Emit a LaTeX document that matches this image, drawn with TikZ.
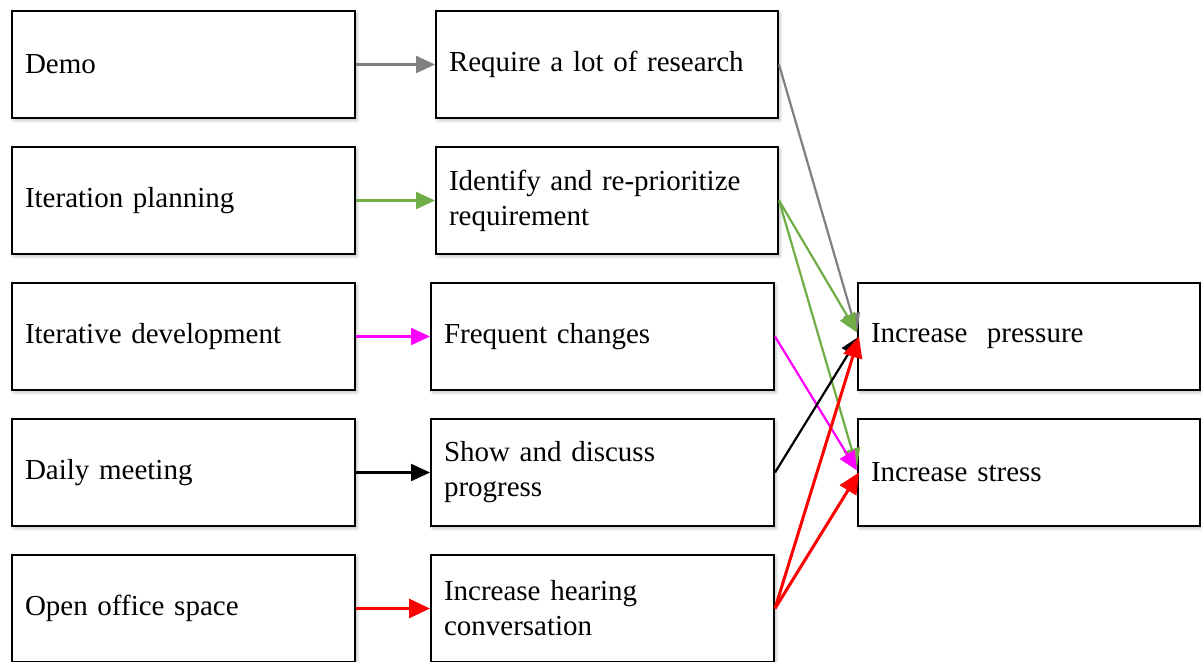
\documentclass[tikz,border=0pt]{standalone}
\usepackage{fontspec}
\setmainfont{Liberation Serif}
\usetikzlibrary{arrows.meta,shadows.blur}
\definecolor{cgray}{HTML}{808080}
\definecolor{cgreen}{HTML}{70AD47}
\definecolor{cmag}{HTML}{FF00FF}
\definecolor{cred}{HTML}{FF0000}
\begin{document}
\begin{tikzpicture}[x=1pt,y=-1pt,
  boxbase/.style={draw=black, line width=2pt, fill=white, anchor=north west,
    minimum height=107pt, inner xsep=13pt, inner ysep=0pt, align=left,
    font=\fontsize{29}{35}\selectfont,
    blur shadow={shadow xshift=2pt, shadow yshift=-2.5pt, shadow blur radius=3pt, shadow opacity=25}},
  wbox/.style={boxbase, text width=317pt},
  mbox/.style={boxbase, text width=316pt},
  link/.style={line width=2.2pt, -{Triangle[length=19pt,width=17pt]}},
  rlink/.style={line width=3pt, -{Triangle[length=21pt,width=19pt]}}
]
\useasboundingbox (0,0) rectangle (1201,661);

% left column: practices
\node[wbox] (demo) at (11,10)  {Demo};
\node[wbox] (iplan) at (11,146) {Iteration planning};
\node[wbox] (idev) at (11,282) {Iterative development};
\node[wbox] (daily) at (11,418) {Daily meeting};
\node[wbox] (office) at (11,554) {Open office space};

% middle column: consequences
\node[mbox] (research) at (435,10)  {Require a lot of research};
\node[mbox] (reprio) at (435,146) {Identify and re-prioritize\\requirement};
\node[wbox] (changes) at (430,282) {Frequent changes};
\node[wbox] (progress) at (430,418) {Show and discuss\\progress};
\node[wbox] (hearing) at (430,554) {Increase hearing\\conversation};

% right column: effects
\node[mbox] (pressure) at (857,282) {Increase~ pressure};
\node[mbox] (stress) at (857,418) {Increase stress};

% practice -> consequence
\draw[link, cgray] (demo.east) -- (research.west);
\draw[link, cgreen] (iplan.east) -- (reprio.west);
\draw[link, cmag] (idev.east) -- (changes.west);
\draw[link, black] (daily.east) -- (progress.west);
\draw[rlink, cred] (office.east) -- (hearing.west);

% consequence -> effect
\draw[link, cgray] (research.east) -- ([yshift=4pt]pressure.west);
\draw[link, cgreen] (reprio.east) -- ([yshift=4pt]pressure.west);
\draw[link, cgreen] (reprio.east) -- ([yshift=5pt]stress.west);
\draw[link, cmag] (changes.east) -- ([yshift=2pt]stress.west);
\draw[link, black] (progress.east) -- ([xshift=2pt]pressure.west);
\draw[rlink, cred] (hearing.east) -- ([xshift=2pt]pressure.west);
\draw[rlink, cred] (hearing.east) -- ([xshift=2pt]stress.west);
\end{tikzpicture}
\end{document}
